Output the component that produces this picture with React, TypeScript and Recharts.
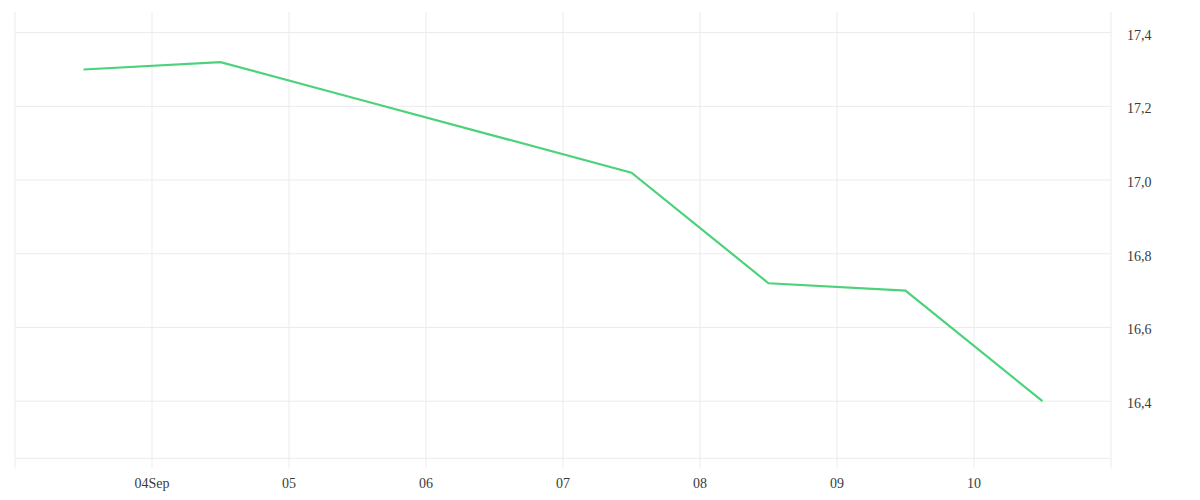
import { CartesianGrid, Line, LineChart, XAxis, YAxis } from "recharts"

// one reading per day, taken at noon
const pointDates = [
  "2023-09-03T12:00:00Z",
  "2023-09-04T12:00:00Z",
  "2023-09-05T12:00:00Z",
  "2023-09-06T12:00:00Z",
  "2023-09-07T12:00:00Z",
  "2023-09-08T12:00:00Z",
  "2023-09-09T12:00:00Z",
  "2023-09-10T12:00:00Z",
]
const prices = [17.3, 17.32, 17.22, 17.12, 17.02, 16.72, 16.7, 16.4]

const tickDates = [
  "2023-09-03T00:00:00Z",
  "2023-09-04T00:00:00Z",
  "2023-09-05T00:00:00Z",
  "2023-09-06T00:00:00Z",
  "2023-09-07T00:00:00Z",
  "2023-09-08T00:00:00Z",
  "2023-09-09T00:00:00Z",
  "2023-09-10T00:00:00Z",
  "2023-09-11T00:00:00Z",
]
const tickLabels = ["", "04Sep", "05", "06", "07", "08", "09", "10", ""]

const yTicks = [16.4, 16.6, 16.8, 17.0, 17.2, 17.4]
const yDomain = [16.245, 17.456]

const xTicks = tickDates.map((d) => Date.parse(d))
const data = pointDates.map((d, i) => ({ t: Date.parse(d), price: prices[i] }))

const gridColor = "#ebebeb"
const tickStyle = { fontFamily: "Liberation Serif", fontSize: 14, fill: "#3a3a3a" }

export default function App() {
  return (
    <div style={{ position: "absolute", left: 0, top: 0, background: "#fff" }}>
      <LineChart width={1200} height={500} data={data} margin={{ top: 12, right: 0, bottom: 0, left: 15 }}>
        <CartesianGrid stroke={gridColor} horizontalValues={yTicks} verticalValues={xTicks} />
        <XAxis
          dataKey="t"
          type="number"
          domain={[xTicks[0], xTicks[xTicks.length - 1]]}
          ticks={xTicks}
          interval={0}
          height={41.7}
          stroke={gridColor}
          tickSize={10}
          tickMargin={10}
          tick={tickStyle}
          tickFormatter={(v) => tickLabels[xTicks.indexOf(v)] ?? ""}
        />
        <YAxis
          orientation="right"
          type="number"
          domain={yDomain}
          ticks={yTicks}
          interval={0}
          width={89}
          axisLine={false}
          tickLine={false}
          tickSize={6}
          tickMargin={10}
          tick={{ ...tickStyle, dy: 2 }}
          tickFormatter={(v) => v.toFixed(1).replace(".", ",")}
        />
        <Line
          type="linear"
          dataKey="price"
          stroke="#4cd27b"
          strokeWidth={2.2}
          dot={false}
          activeDot={false}
          isAnimationActive={false}
        />
      </LineChart>
    </div>
  )
}
